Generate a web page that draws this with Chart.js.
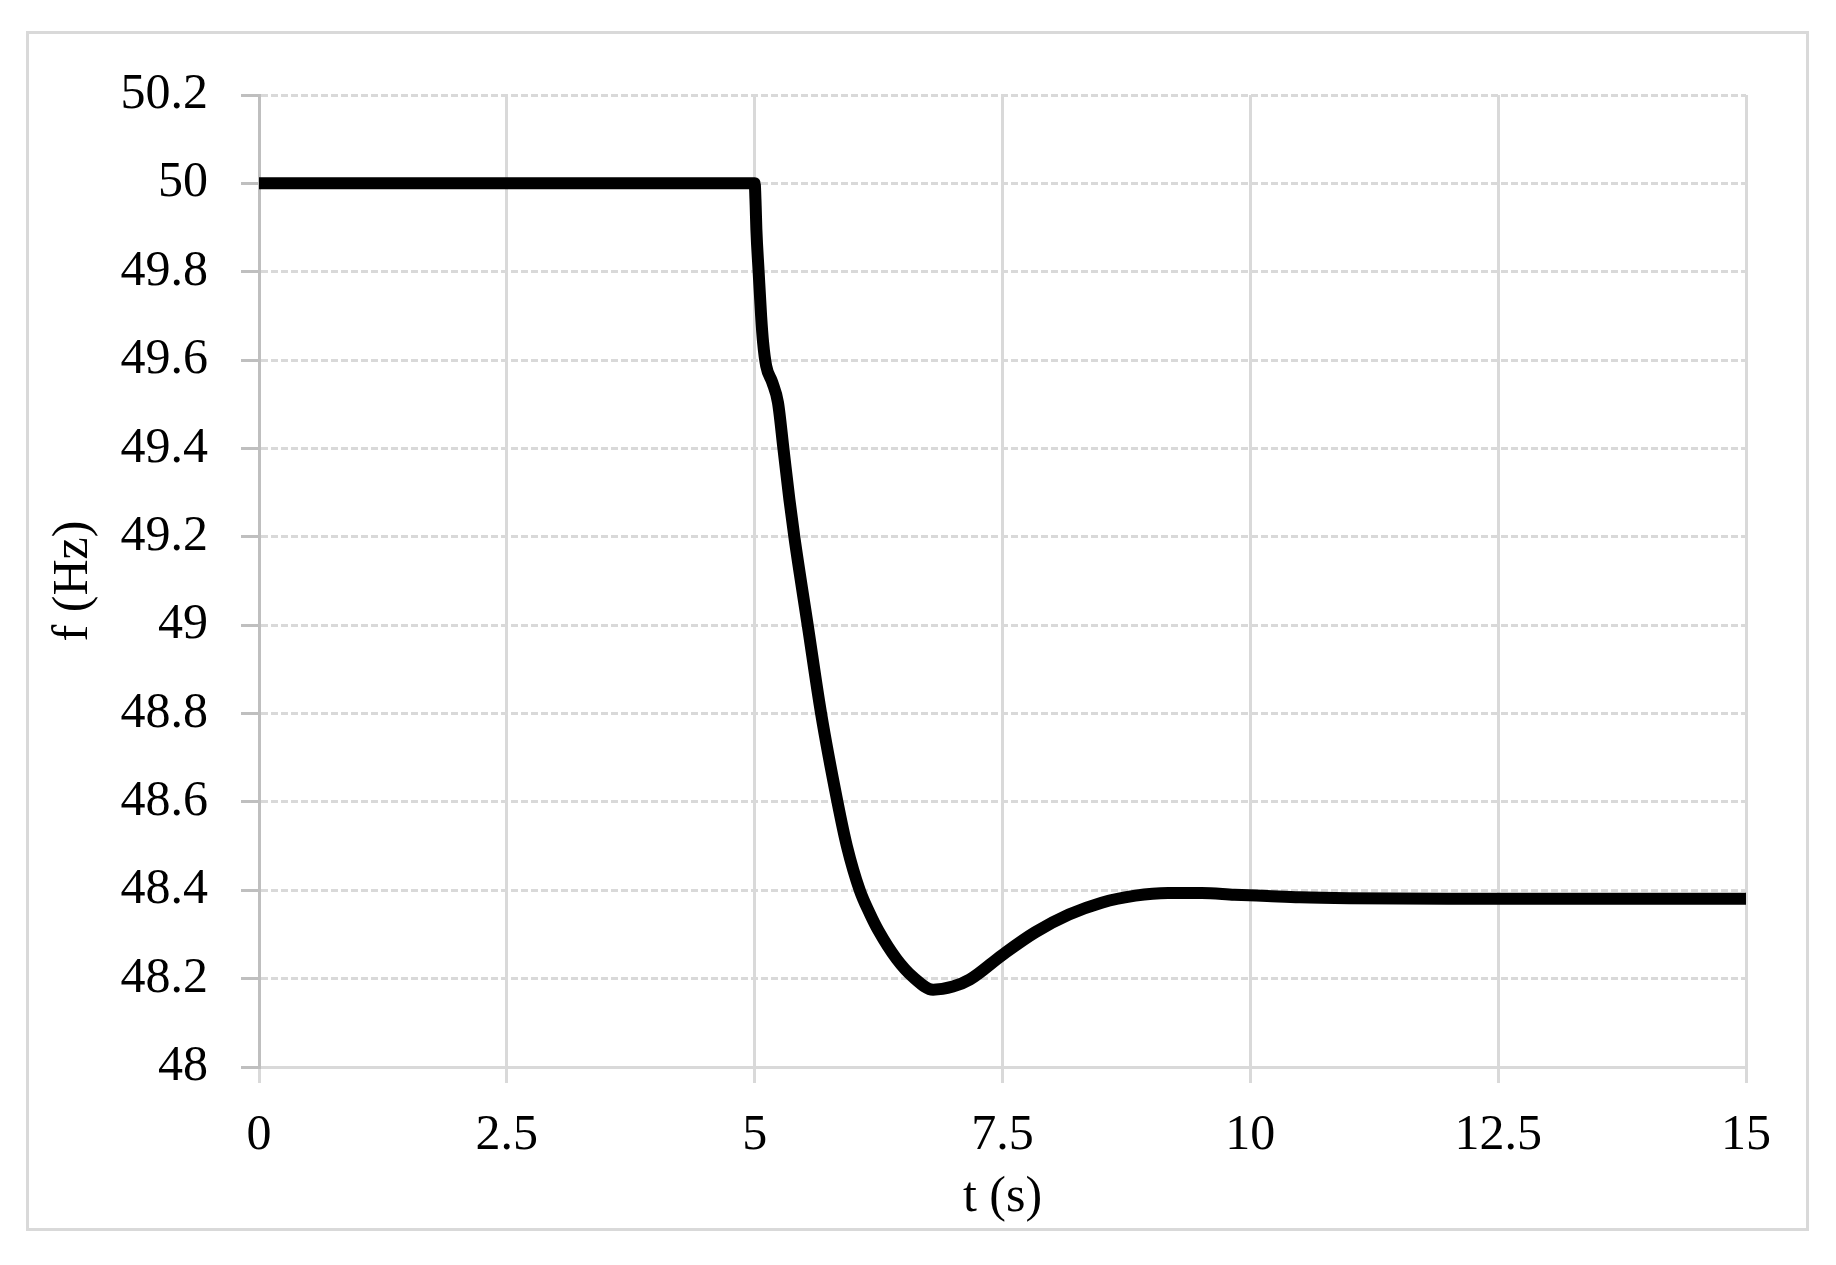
<!DOCTYPE html>
<html>
<head>
<meta charset="utf-8">
<script src="https://cdn.jsdelivr.net/npm/chart.js@4.4.1/dist/chart.umd.min.js"></script>
<style>
    body { margin: 0; background: #ffffff; }
    #wrap { position: relative; width: 1836px; height: 1265px; }
    #frame {
        position: absolute; left: 26px; top: 31px; width: 1783px; height: 1200px;
        box-sizing: border-box; border: 3px solid #d9d9d9;
    }
    #chart { position: absolute; left: 0; top: 0; }
</style>
</head>
<body>
<div id="wrap">
    <div id="frame"></div>
    <canvas id="chart" width="1836" height="1265"></canvas>
</div>
<script>
// frequency response
const tSeconds = [0, 5.0, 5.01, 5.017, 5.04, 5.065, 5.085, 5.116, 5.177, 5.235, 5.29, 5.35, 5.40,
    5.535, 5.67, 5.835, 5.93, 6.06, 6.16, 6.25, 6.43, 6.60, 6.80, 7.0, 7.17, 7.5, 7.83, 8.17, 8.5,
    8.84, 9.17, 9.51, 9.84, 10.17, 10.5, 11, 12, 13, 14, 15]
const freqHz = [50, 50, 49.95, 49.897, 49.80, 49.70, 49.64, 49.587, 49.55, 49.504, 49.40, 49.285, 49.2,
    49.0, 48.8, 48.6, 48.5, 48.4, 48.348, 48.308, 48.245, 48.203, 48.175, 48.182, 48.198, 48.254, 48.305, 48.345, 48.372,
    48.388, 48.394, 48.394, 48.39, 48.387, 48.384, 48.382, 48.381, 48.381, 48.381, 48.381]

const xTicks = [0, 2.5, 5, 7.5, 10, 12.5, 15]
const yTicks = [48, 48.2, 48.4, 48.6, 48.8, 49, 49.2, 49.4, 49.6, 49.8, 50, 50.2]
const xTitle = "t (s)"
const yTitle = "f (Hz)"

const font = { family: "'Liberation Serif', 'Times New Roman', serif", size: 50 }

new Chart(document.getElementById("chart"), {
    type: 'line',
    data: {
        datasets: [{
            data: tSeconds.map((t, i) => ({ x: t, y: freqHz[i] })),
            borderColor: '#000000',
            borderWidth: 12,
            borderCapStyle: 'round',
            borderJoinStyle: 'round',
            pointRadius: 0,
            tension: 0.4,
            cubicInterpolationMode: 'monotone',
            fill: false
        }]
    },
    options: {
        responsive: false,
        animation: false,
        layout: { padding: { left: 0, top: 95, right: 90, bottom: 0 } },
        plugins: { legend: { display: false }, tooltip: { enabled: false } },
        scales: {
            x: {
                type: 'linear',
                min: 0,
                max: 15,
                afterBuildTicks: (scale) => { scale.ticks = xTicks.map((v) => ({ value: v })) },
                afterFit: (scale) => { scale.height = 1265 - 1067 },
                ticks: { color: '#000000', font: font, padding: 23, maxRotation: 0,
                    callback: (v) => String(v) },
                grid: {
                    color: (ctx) => ctx.index === 0 ? 'rgba(0,0,0,0)' : '#d9d9d9',
                    lineWidth: 3,
                    tickColor: '#d9d9d9',
                    tickWidth: 3,
                    tickLength: 16
                },
                border: { color: '#d9d9d9', width: 3 },
                title: { display: true, text: xTitle, color: '#000000', font: font,
                    padding: { top: 0, bottom: 37 } }
            },
            y: {
                type: 'linear',
                min: 48,
                max: 50.2,
                afterBuildTicks: (scale) => { scale.ticks = yTicks.map((v) => ({ value: v })) },
                afterFit: (scale) => { scale.width = 259 },
                ticks: { color: '#000000', font: font, padding: 33,
                    callback: (v) => String(Number(v.toFixed(1))) },
                grid: {
                    color: (ctx) => ctx.index === 0 ? 'rgba(0,0,0,0)' : '#d9d9d9',
                    lineWidth: 3,
                    tickColor: '#bfbfbf',
                    tickWidth: 3,
                    tickLength: 18
                },
                border: { color: '#bfbfbf', width: 3, dash: [7, 3] },
                title: { display: true, text: yTitle, color: '#000000', font: font,
                    padding: { top: 44, bottom: 0 } }
            }
        }
    }
})
</script>
</body>
</html>
